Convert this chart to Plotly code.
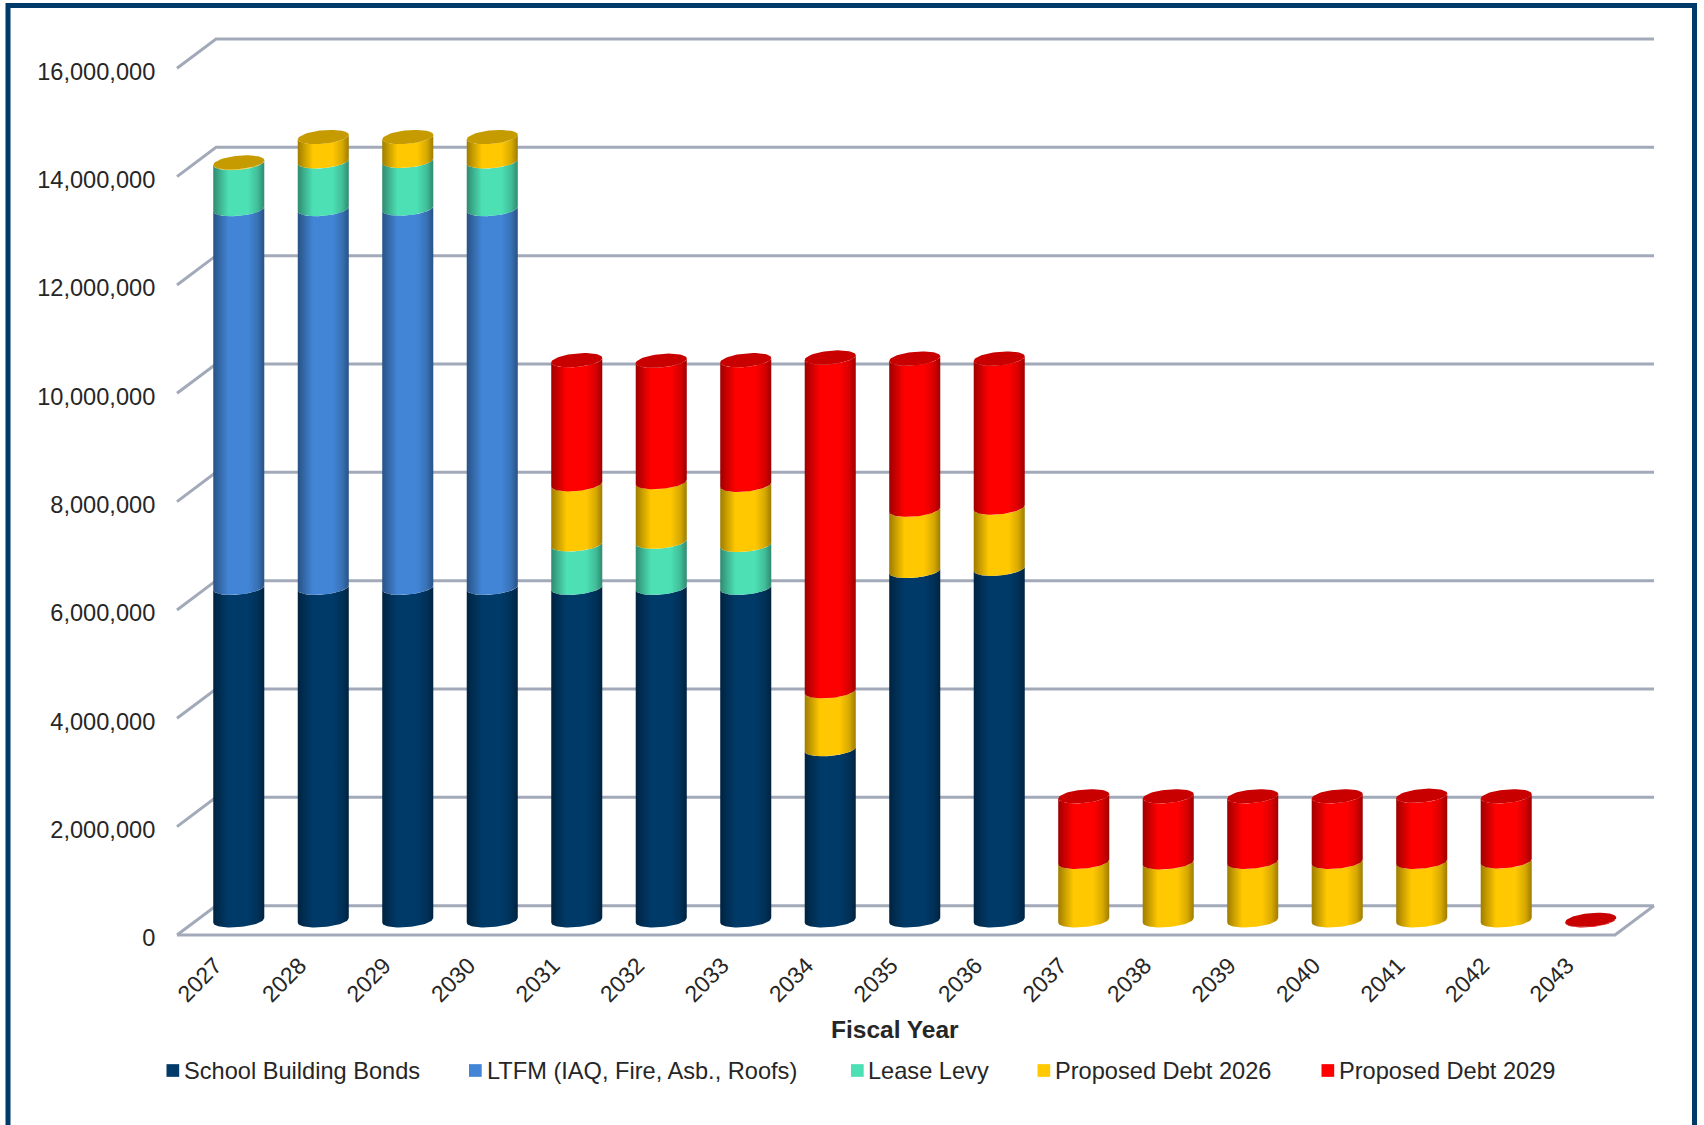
import numpy as np
import plotly.graph_objects as go

# Debt service by fiscal year, in dollars
years = [2027, 2028, 2029, 2030, 2031, 2032, 2033, 2034, 2035, 2036,
         2037, 2038, 2039, 2040, 2041, 2042, 2043]
school_bonds = [6140000, 6140000, 6140000, 6140000, 6140000, 6140000, 6140000, 3160000, 6450000, 6490000,
                0, 0, 0, 0, 0, 0, 0]
ltfm = [6990000, 6990000, 7000000, 6990000, 0, 0, 0, 0, 0, 0,
        0, 0, 0, 0, 0, 0, 0]
lease_levy = [850000, 880000, 880000, 880000, 800000, 850000, 790000, 0, 0, 0,
              0, 0, 0, 0, 0, 0, 0]
debt_2026 = [10000, 450000, 440000, 450000, 1110000, 1100000, 1110000, 1070000, 1130000, 1130000,
             1080000, 1070000, 1080000, 1080000, 1080000, 1090000, 0]
debt_2029 = [0, 0, 0, 0, 2290000, 2240000, 2300000, 6160000, 2790000, 2750000,
             1210000, 1220000, 1210000, 1210000, 1220000, 1200000, 10000]

series_names = ["School Building Bonds", "LTFM (IAQ, Fire, Asb., Roofs)", "Lease Levy",
                "Proposed Debt 2026", "Proposed Debt 2029"]
series_values = [school_bonds, ltfm, lease_levy, debt_2026, debt_2029]
series_colors = [(0, 58, 104), (66, 133, 214), (77, 224, 181), (255, 200, 0), (255, 0, 0)]
top_colors = ["#002A4C", "#2F5F9A", "#379E80", "#C69B00", "#C80000"]
y_ticks = list(range(0, 16000001, 2000000))

INK = "#262626"
GRID = "#A2AABA"
FRAME = "#003A68"
FONT = "Liberation Sans"

# Oblique floor: how far the back wall sits from the front plane, in axis units
DEPTH_X = 0.462
DEPTH_Y = 541000
X_MIN, X_MAX = -0.5, 16.98
Y_MAX = 16540000

# Cylinder cross-section in axis units
RADIUS_X = 0.302
RADIUS_Y = 125000
TILT_Y = 42000

# A few pixels of slack round the wall so the outer grid lines keep their full width
PAD_X = 3 / 84.5
PAD_Y = 3 / 54.17 * 1e6
LEFT, RIGHT, TOP, BOTTOM = 174, 47, 36, 187
PLOT_W = 1704 - LEFT - RIGHT
PLOT_H = 1125 - TOP - BOTTOM


def page_x(px):
    return (px - LEFT) / PLOT_W


def page_y(py):
    return (1125 - BOTTOM - py) / PLOT_H


def shade(rgb, k):
    return "rgb({},{},{})".format(*[int(c * k) for c in rgb])


def gradient(rgb):
    stops = [(0, 0.62), (0.12, 0.78), (0.30, 1.0), (0.68, 1.0), (0.87, 0.85), (1, 0.62)]
    return [[p, shade(rgb, k)] for p, k in stops]


def ring(cx, level, start, stop, n=40):
    t = np.linspace(start, stop, n)
    return cx + RADIUS_X * np.cos(t), level + RADIUS_Y * np.sin(t) + TILT_Y * np.cos(t)


fig = go.Figure()

# Back wall and side wall grid
for v in y_ticks:
    fig.add_trace(go.Scatter(
        x=[X_MIN, X_MIN + DEPTH_X, X_MAX], y=[v, v + DEPTH_Y, v + DEPTH_Y],
        mode="lines", line=dict(color=GRID, width=3),
        showlegend=False, hoverinfo="skip"))

# Floor outline
fig.add_trace(go.Scatter(
    x=[X_MIN, X_MAX - DEPTH_X, X_MAX], y=[0, 0, DEPTH_Y],
    mode="lines", line=dict(color=GRID, width=3),
    showlegend=False, hoverinfo="skip"))

# Stacked cylinders, one filled outline per segment
for i, year in enumerate(years):
    cx = i + DEPTH_X / 2
    base = DEPTH_Y / 2
    top_series = None
    for s, values in enumerate(series_values):
        v = values[i]
        if v <= 0:
            continue
        lx, ly = ring(cx, base, np.pi, 2 * np.pi)
        ux, uy = ring(cx, base + v, 2 * np.pi, np.pi)
        fig.add_trace(go.Scatter(
            x=np.concatenate([lx, ux]), y=np.concatenate([ly, uy]),
            mode="lines", line=dict(width=0), fill="toself",
            fillgradient=dict(type="horizontal", colorscale=gradient(series_colors[s])),
            showlegend=False, hoveron="fills",
            text=f"{year} {series_names[s]}: {v:,.0f}", hoverinfo="text"))
        base += v
        top_series = s
    if top_series is not None:
        ex, ey = ring(cx, base, 0, 2 * np.pi, 60)
        fig.add_trace(go.Scatter(
            x=ex, y=ey, mode="lines", line=dict(width=0), fill="toself",
            fillcolor=top_colors[top_series], showlegend=False, hoverinfo="skip"))

# Key below the axis: a square swatch and a label per series
key_swatch_px = [166.5, 469, 851, 1037.5, 1321.5]
key_text_px = [183, 485.5, 866.5, 1053.5, 1337.5]
KEY_Y_PX = 1070.5
SWATCH_PX = 12.7

key_labels = [dict(
    text=name, x=page_x(tx), xref="paper", y=page_y(KEY_Y_PX), yref="paper",
    xanchor="left", yanchor="middle", showarrow=False, borderpad=0,
    font=dict(family=FONT, size=23.6, color=INK))
    for name, tx in zip(series_names, key_text_px)]

key_swatches = [dict(
    type="rect", xref="paper", yref="paper",
    x0=page_x(sx), x1=page_x(sx + SWATCH_PX),
    y0=page_y(KEY_Y_PX + SWATCH_PX / 2), y1=page_y(KEY_Y_PX - SWATCH_PX / 2),
    fillcolor=shade(rgb, 1.0), line=dict(width=0))
    for sx, rgb in zip(key_swatch_px, series_colors)]

fig.update_layout(
    width=1704, height=1125,
    margin=dict(l=LEFT, r=RIGHT, t=TOP, b=BOTTOM),
    paper_bgcolor="white", plot_bgcolor="white",
    font=dict(family=FONT, color=INK),
    showlegend=False,
    xaxis=dict(
        range=[X_MIN - PAD_X, X_MAX + PAD_X], tickmode="array",
        tickvals=list(range(len(years))), ticktext=[str(y) for y in years],
        tickangle=-45, tickfont=dict(family=FONT, size=23, color=INK),
        ticks="outside", ticklen=4, tickcolor="rgba(0,0,0,0)", ticklabelshift=-4,
        showgrid=False, showline=False, zeroline=False),
    yaxis=dict(
        range=[-PAD_Y, Y_MAX + PAD_Y], tickmode="array", tickvals=y_ticks,
        tickformat=",.0f", tickfont=dict(family=FONT, size=23.6, color=INK),
        ticks="outside", ticklen=13, tickcolor="rgba(0,0,0,0)", ticklabelshift=3,
        showgrid=False, showline=False, zeroline=False),
    annotations=[dict(
        text="<b>Fiscal Year</b>", x=8, xref="x", y=page_y(1029), yref="paper",
        xanchor="center", yanchor="middle", showarrow=False,
        font=dict(family=FONT, size=24.5, color=INK))] + key_labels,
    # Frame round the chart: left, top and right sides only
    shapes=[dict(
        type="path", xref="paper", yref="paper",
        path="M {l} {b} L {l} {t} L {r} {t} L {r} {b}".format(
            l=page_x(8), r=page_x(1694.5), t=page_y(5.5), b=page_y(1125)),
        line=dict(color=FRAME, width=5))] + key_swatches)

fig.write_html("out.html")
